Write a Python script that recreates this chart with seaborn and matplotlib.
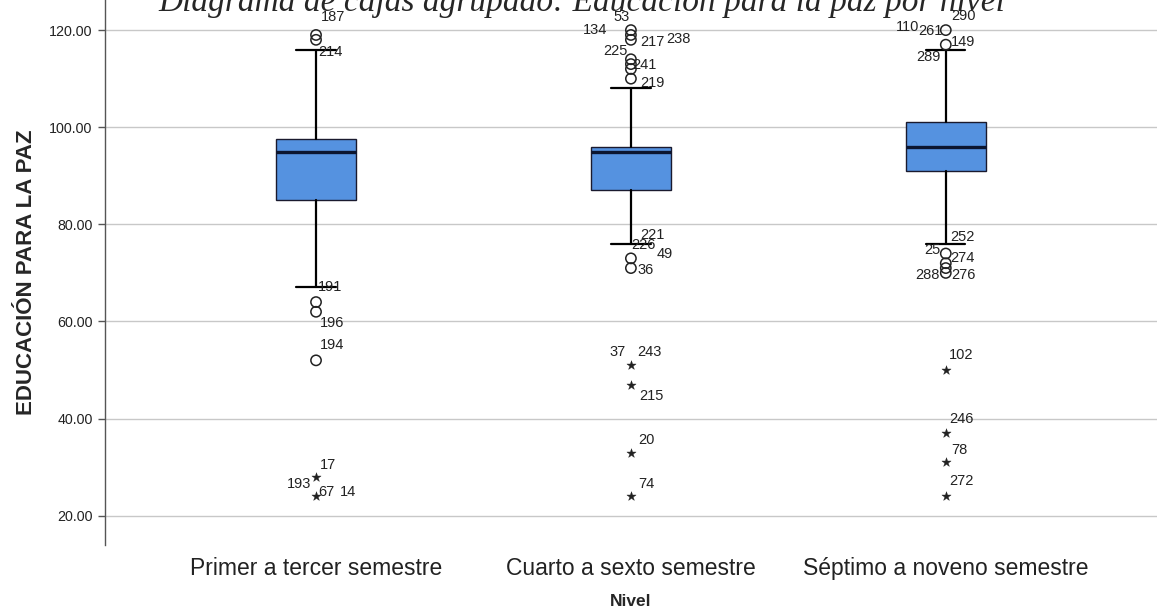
import matplotlib
matplotlib.use("Agg")
import matplotlib.pyplot as plt
import seaborn as sns
import pandas as pd

# ---------------- data ----------------
niveles = ["Primer a tercer semestre", "Cuarto a sexto semestre", "Séptimo a noveno semestre"]
q1 = [85, 87, 91]
mediana = [95, 95, 96]
q3 = [97.5, 96, 101]
bigote_inf = [67, 76, 76]
bigote_sup = [116, 108, 116]

# outliers (circles) per level
atipicos_nivel = [0, 0, 0, 0, 0,
                  1, 1, 1, 1, 1, 1, 1, 1, 1,
                  2, 2, 2, 2, 2, 2]
atipicos_valor = [119, 118, 64, 62, 52,
                  120, 119, 118, 114, 113, 112, 110, 73, 71,
                  120, 117, 74, 72, 71, 70]

# extremes (stars) per level
extremos_nivel = [0, 0, 1, 1, 1, 1, 2, 2, 2, 2]
extremos_valor = [28, 24, 51, 47, 33, 24, 50, 37, 31, 24]

# case labels: level, text, y (data units), horizontal offset in px (neg = left)
etiq_nivel = [0, 0, 0, 0, 0, 0, 0, 0, 0,
              1, 1, 1, 1, 1, 1, 1, 1, 1, 1, 1, 1, 1, 1, 1, 1,
              2, 2, 2, 2, 2, 2, 2, 2, 2, 2, 2, 2, 2, 2]
etiq_texto = ["187", "214", "191", "196", "194", "17", "193", "67", "14",
              "53", "134", "217", "238", "225", "241", "219", "221", "226", "49", "36", "37", "243", "215", "20", "74",
              "290", "110", "261", "149", "289", "252", "25", "274", "288", "276", "102", "246", "78", "272"]
etiq_y = [122.7, 115.5, 67.1, 59.7, 55.2, 30.5, 26.6, 24.9, 24.9,
          122.7, 120.0, 117.5, 118.1, 115.7, 112.8, 109.1, 77.8, 75.8, 73.9, 70.6, 53.7, 53.7, 44.7, 35.6, 26.6,
          122.9, 120.6, 119.8, 117.5, 114.4, 77.4, 74.7, 73.1, 69.6, 69.6, 53.1, 40.0, 33.6, 27.2]
etiq_dx = [5, 2, 2, 4, 4, 4, -5, 2, 24,
           -1, -24, 9, 35, -3, 1, 9, 9, 0, 26, 7, -5, 6, 8, 7, 7,
           5, -27, -3, 5, -5, 4, -5, 4, -6, 5, 3, 3, 5, 3]

# ---------------- figure ----------------
sns.set_style("white")
plt.rcParams["font.family"] = ["Liberation Sans", "DejaVu Sans"]

fig = plt.figure(figsize=(11.57, 6.15), dpi=100)
ax = fig.add_axes([0.0908, 0.114, 0.909, 0.886])

stats = []
for i in range(len(niveles)):
    stats.append(dict(med=mediana[i], q1=q1[i], q3=q3[i],
                      whislo=bigote_inf[i], whishi=bigote_sup[i], fliers=[]))

ax.bxp(stats, positions=range(len(niveles)), widths=0.255, capwidths=0.125,
       patch_artist=True, showfliers=False,
       boxprops=dict(facecolor="#5592E0", edgecolor="#1a1a2e", linewidth=1.0),
       medianprops=dict(color="#0b1530", linewidth=2.4),
       whiskerprops=dict(color="black", linewidth=1.6),
       capprops=dict(color="black", linewidth=1.6), zorder=3)

df_o = pd.DataFrame({"x": atipicos_nivel, "y": atipicos_valor})
df_e = pd.DataFrame({"x": extremos_nivel, "y": extremos_valor})
sns.scatterplot(data=df_o, x="x", y="y", ax=ax, marker="o", s=55,
                facecolors="none", edgecolor="#222222", linewidth=1.1, zorder=4)
sns.scatterplot(data=df_e, x="x", y="y", ax=ax, marker="*", s=48,
                color="#222222", edgecolor="#222222", linewidth=0.3, zorder=4)

px = 1.0 / 315.0  # data units per pixel in x
for n, t, y, dx in zip(etiq_nivel, etiq_texto, etiq_y, etiq_dx):
    ax.text(n + dx * px, y, t, ha="left" if dx >= 0 else "right", va="center",
            fontsize=10.5, color="#222222", zorder=5)

ax.set_xlim(-0.67, 2.67)
ax.set_ylim(14.0, 126.2)
ax.set_yticks([20, 40, 60, 80, 100, 120])
ax.set_yticklabels([f"{v:.2f}" for v in [20, 40, 60, 80, 100, 120]], fontsize=10.3, color="#222222")
ax.set_xticks(range(len(niveles)))
ax.set_xticklabels(niveles, fontsize=16.5, color="#222222")
ax.tick_params(axis="x", length=0, pad=9)
ax.tick_params(axis="y", length=5, width=1, color="#555555", direction="out", left=True, pad=4)
ax.yaxis.grid(True, color="#c8c8c8", linewidth=1.0, zorder=0)
ax.set_axisbelow(True)

for s in ["top", "right", "bottom"]:
    ax.spines[s].set_visible(False)
ax.spines["left"].set_color("#555555")
ax.spines["left"].set_linewidth(1.0)

ax.set_xlabel("Nivel", fontsize=12.5, fontweight="bold", labelpad=10)
ax.set_ylabel("EDUCACIÓN PARA LA PAZ", fontsize=16, fontweight="bold", labelpad=9)

fig.text(0.503, 1 - 11 / 615, "Diagrama de cajas agrupado: Educación para la paz por nivel",
         ha="center", va="baseline", fontsize=24, style="italic",
         family=["Liberation Serif", "DejaVu Serif"])

fig.savefig("out.png", dpi=100)
